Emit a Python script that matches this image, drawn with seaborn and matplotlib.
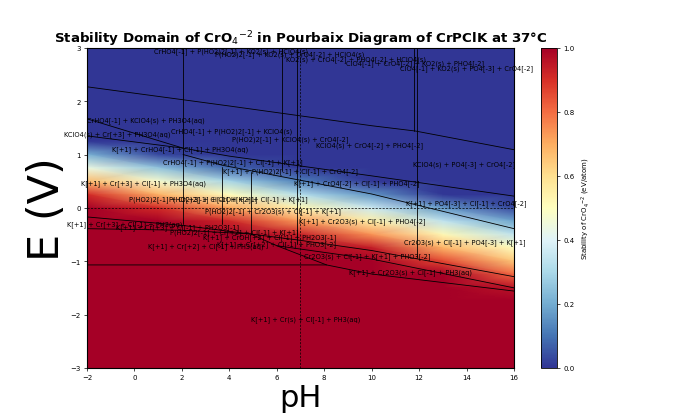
import numpy as np
import pandas as pd
import matplotlib
matplotlib.use("Agg")
import matplotlib.pyplot as plt
import seaborn as sns

# Stability of CrO4[-2] (eV/atom, clipped to 0..1)
# rows: E from 3.0 down to -3.0 in 0.25 V steps, one list per pH column
e_grid = [3.0, 2.75, 2.5, 2.25, 2.0, 1.75, 1.5, 1.25, 1.0, 0.75, 0.5, 0.25, 0.0,
          -0.25, -0.5, -0.75, -1.0, -1.25, -1.5, -1.75, -2.0, -2.25, -2.5, -2.75, -3.0]
ph_grid = [-2, 1, 4, 7, 10, 13, 16]
stab_ph_m2 = [0, 0, 0, 0, 0, 0, 0, 0, 0.21, 0.44, 0.67, 0.91, 1, 1, 1, 1, 1, 1, 1, 1, 1, 1, 1, 1, 1]
stab_ph_1 = [0, 0, 0, 0, 0, 0, 0, 0, 0.03, 0.25, 0.47, 0.69, 0.91, 1, 1, 1, 1, 1, 1, 1, 1, 1, 1, 1, 1]
stab_ph_4 = [0, 0, 0, 0, 0, 0, 0, 0, 0, 0.08, 0.29, 0.50, 0.71, 0.92, 1, 1, 1, 1, 1, 1, 1, 1, 1, 1, 1]
stab_ph_7 = [0, 0, 0, 0, 0, 0, 0, 0, 0, 0, 0.12, 0.32, 0.52, 0.73, 0.93, 1, 1, 1, 1, 1, 1, 1, 1, 1, 1]
stab_ph_10 = [0, 0, 0, 0, 0, 0, 0, 0, 0, 0, 0, 0.16, 0.36, 0.55, 0.74, 0.94, 1, 1, 1, 1, 1, 1, 1, 1, 1]
stab_ph_13 = [0, 0, 0, 0, 0, 0, 0, 0, 0, 0, 0, 0, 0.17, 0.34, 0.52, 0.69, 0.86, 1, 1, 1, 1, 1, 1, 1, 1]
stab_ph_16 = [0, 0, 0, 0, 0, 0, 0, 0, 0, 0, 0, 0, 0.03, 0.19, 0.34, 0.50, 0.65, 0.81, 0.96, 1, 1, 1, 1, 1, 1]

# domain boundaries (pH, E)
boundaries = {
    "top": ([-2, 4, 10, 11.85, 16], [2.27, 1.91, 1.54, 1.44, 1.09]),
    "kclo4": ([-2, 2.05, 4, 10, 16], [1.35, 1.12, 0.97, 0.6, 0.22]),
    "crho4": ([-2, 2.05], [1.67, 1.12]),
    "cro4": ([2.05, 3.7, 10, 16], [1.0, 0.8, 0.26, -0.39]),
    "cr3": ([-2, 2.05, 6.85, 10, 16], [-0.17, -0.33, -0.6, -0.8, -1.29]),
    "cr2": ([-2, 2.05, 4.9, 6.0, 8.1], [-0.39, -0.42, -0.49, -0.71, -1.07]),
    "cr2o3": ([6.0, 10, 16], [-0.71, -0.96, -1.5]),
    "cr": ([-2, 8.1, 10, 16], [-1.07, -1.07, -1.24, -1.56]),
    "v1": ([2.05, 2.05], [3.0, -0.3]),
    "v2": ([3.7, 3.7], [0.77, -0.3]),
    "v3": ([4.9, 4.9], [0.68, -0.49]),
    "v4": ([6.2, 6.2], [3.0, 0.69]),
    "v5": ([6.85, 6.85], [3.0, -0.68]),
    "v6": ([11.8, 11.8], [3.0, 1.44]),
    "v7": ([11.9, 11.9], [3.0, -0.92]),
}

# domain labels
labels = [
    ("CrHO4[-1] + P(HO2)2[-1] + KO2(s) + HClO4(s)", 4.07, 2.94),
    ("P(HO2)2[-1] + KO2(s) + CrO4[-2] + HClO4(s)", 6.56, 2.89),
    ("KO2(s) + CrO4[-2] + PHO4[-2] + HClO4(s)", 9.34, 2.79),
    ("ClO4[-1] + CrO4[-2] + KO2(s) + PHO4[-2]", 11.83, 2.72),
    ("ClO4[-1] + KO2(s) + PO4[-3] + CrO4[-2]", 13.98, 2.625),
    ("CrHO4[-1] + KClO4(s) + PH3O4(aq)", 0.49, 1.65),
    ("KClO4(s) + Cr[+3] + PH3O4(aq)", -0.74, 1.39),
    ("CrHO4[-1] + P(HO2)2[-1] + KClO4(s)", 4.11, 1.44),
    ("P(HO2)2[-1] + KClO4(s) + CrO4[-2]", 6.56, 1.29),
    ("KClO4(s) + CrO4[-2] + PHO4[-2]", 9.89, 1.18),
    ("K[+1] + CrHO4[-1] + Cl[-1] + PH3O4(aq)", 1.92, 1.11),
    ("CrHO4[-1] + P(HO2)2[-1] + Cl[-1] + K[+1]", 4.16, 0.86),
    ("K[+1] + P(HO2)2[-1] + Cl[-1] + CrO4[-2]", 6.56, 0.69),
    ("K[+1] + CrO4[-2] + Cl[-1] + PHO4[-2]", 9.38, 0.47),
    ("KClO4(s) + PO4[-3] + CrO4[-2]", 13.89, 0.825),
    ("K[+1] + PO4[-3] + Cl[-1] + CrO4[-2]", 13.98, 0.09),
    ("K[+1] + Cr[+3] + Cl[-1] + PH3O4(aq)", 0.40, 0.47),
    ("P(HO2)2[-1] + Cr[+3] + Cl[-1] + K[+1]", 2.47, 0.17),
    ("P(HO2)2[-1] + CrOH[+2] + Cl[-1] + K[+1]", 4.37, 0.17),
    ("P(HO2)2[-1] + Cr2O3(s) + Cl[-1] + K[+1]", 5.84, -0.06),
    ("K[+1] + Cr2O3(s) + Cl[-1] + PHO4[-2]", 9.59, -0.24),
    ("Cr2O3(s) + Cl[-1] + PO4[-3] + K[+1]", 13.94, -0.64),
    ("K[+1] + Cr[+3] + Cl[-1] + PH3(aq)", -0.40, -0.30),
    ("K[+1] + Cr[+3] + Cl[-1] + PH2O3[-1]", 1.84, -0.36),
    ("P(HO2)2[-1] + Cr[+2] + Cl[-1] + K[+1]", 4.20, -0.45),
    ("K[+1] + CrOH[+2] + Cl[-1] + PH2O3[-1]", 5.72, -0.54),
    ("K[+1] + Cr[+2] + Cl[-1] + PHO3[-2]", 5.98, -0.675),
    ("K[+1] + Cr[+2] + Cl[-1] + PH3(aq)", 3.02, -0.71),
    ("Cr2O3(s) + Cl[-1] + K[+1] + PHO3[-2]", 9.80, -0.90),
    ("K[+1] + Cr2O3(s) + Cl[-1] + PH3(aq)", 11.62, -1.20),
    ("K[+1] + Cr(s) + Cl[-1] + PH3(aq)", 7.23, -2.08),
]

sns.set_style("ticks", {"axes.edgecolor": "black", "text.color": "black",
                        "xtick.color": "black", "ytick.color": "black",
                        "axes.labelcolor": "black"})
plt.rcParams['font.family'] = ['DejaVu Sans']

stab = np.column_stack([stab_ph_m2, stab_ph_1, stab_ph_4, stab_ph_7,
                        stab_ph_10, stab_ph_13, stab_ph_16])
cmap = sns.color_palette("RdYlBu_r", as_cmap=True)

fig = plt.figure(figsize=(6.9, 4.14), dpi=100)
ax = fig.add_axes([0.126, 0.109, 0.619, 0.773])
cax = fig.add_axes([0.784, 0.109, 0.023, 0.773])

mesh = ax.pcolormesh(ph_grid, e_grid, stab, shading="gouraud", cmap=cmap, vmin=0, vmax=1)

rows = []
for name, (phs, es) in boundaries.items():
    for p, e in zip(phs, es):
        rows.append({"seg": name, "pH": p, "E": e})
bdf = pd.DataFrame(rows)
sns.lineplot(data=bdf, x="pH", y="E", units="seg", estimator=None, sort=False,
             color="black", linewidth=0.6, ax=ax, legend=False)
ax.axhline(0, color="black", ls="--", lw=0.5, dashes=(3, 2))
ax.axvline(7, color="black", ls="--", lw=0.5, dashes=(3, 2))

for txt, p, e in labels:
    ax.text(p, e, txt, fontsize=4.8, ha="center", va="center")

ax.set_xlim(-2, 16)
ax.set_ylim(-3, 3)
ax.set_xticks(range(-2, 17, 2))
ax.set_yticks(range(-3, 4))
ax.tick_params(labelsize=5, length=2.5, width=0.5, pad=2)
for s in ax.spines.values():
    s.set_linewidth(0.8)
ax.set_xlabel("pH", fontsize=22, labelpad=2)
ax.set_ylabel("E (V)", fontsize=31, labelpad=2)
ax.set_title(r"Stability Domain of CrO$_4$$^{-2}$ in Pourbaix Diagram of CrPClK at 37°C",
             fontsize=9.6, fontweight="bold", pad=3)

cb = fig.colorbar(mesh, cax=cax)
cb.set_ticks([0, 0.2, 0.4, 0.6, 0.8, 1.0])
cb.ax.tick_params(labelsize=5, length=2.5, width=0.5, pad=2)
cb.outline.set_linewidth(0.6)
cb.set_label(r"Stability of CrO$_4$$^{-2}$ (eV/atom)", fontsize=5, labelpad=4)

fig.savefig("out.png", dpi=100)
